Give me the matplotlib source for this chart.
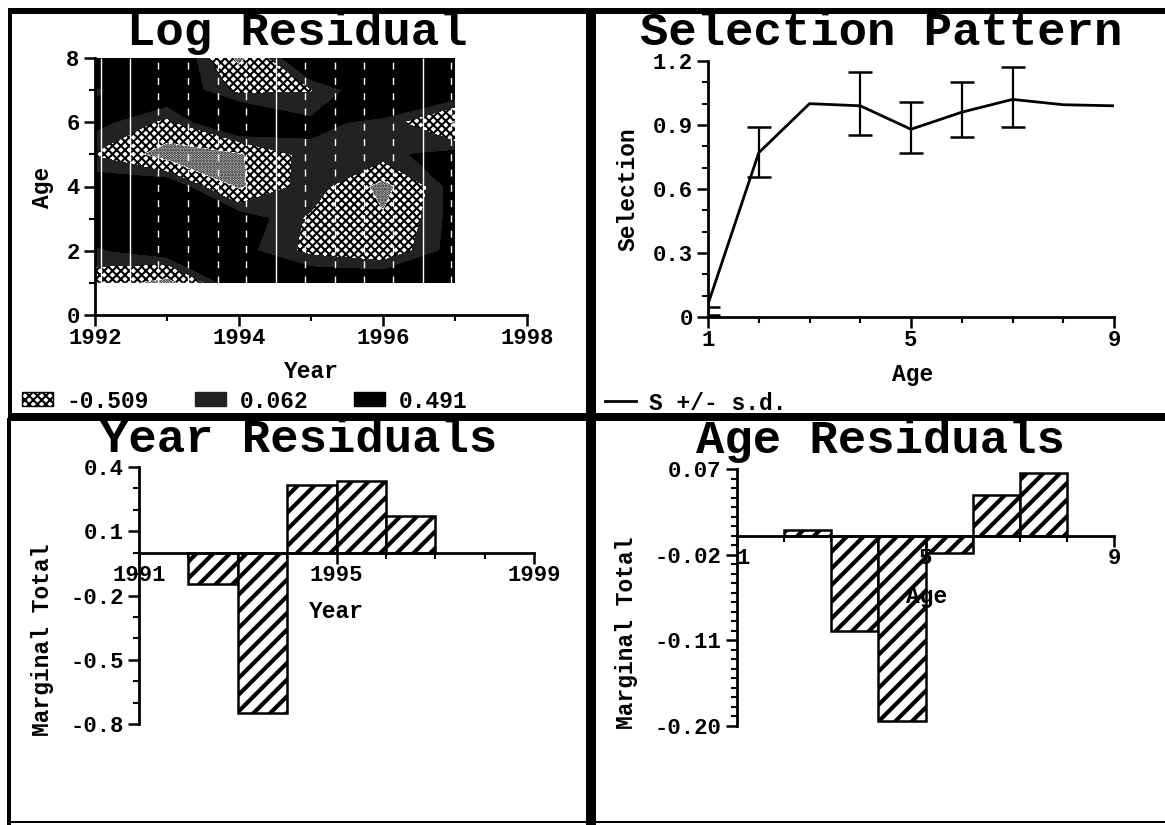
import numpy as np
import matplotlib
matplotlib.use("Agg")
import matplotlib.pyplot as plt
from matplotlib.patches import Patch, Rectangle
from matplotlib.transforms import Affine2D
from matplotlib.ticker import MultipleLocator, FixedLocator

W, H = 1165, 825
FONT = "Liberation Mono"
plt.rcParams["font.family"] = [FONT, "DejaVu Sans Mono"]
plt.rcParams["font.weight"] = "bold"
plt.rcParams["axes.unicode_minus"] = False

# ---- data ----
res_years = [1992, 1993, 1994, 1995, 1996, 1997]
res_ages = [1, 2, 3, 4, 5, 6, 7, 8]
res_age1 = [-0.40, -0.80, 0.30, 0.30, 0.30, 0.30]
res_age2 = [-0.05, 0.20, 0.10, -0.30, -0.45, 0.12]
res_age3 = [0.30, 0.20, 0.20, -0.28, -0.60, 0.12]
res_age4 = [0.20, 0.30, -0.72, -0.02, -0.80, 0.15]
res_age5 = [-0.25, -0.85, -0.70, -0.05, -0.06, 0.10]
res_age6 = [0.10, -0.30, 0.50, 0.05, -0.05, -0.70]
res_age7 = [-0.05, 0.30, -0.30, -0.24, 0.30, 0.30]
res_age8 = [0.50, 0.50, -0.75, 0.50, 0.50, 0.50]
res_levels = [-2.0, -0.65, -0.22, 0.0, 2.0]
legend_values = ["-0.509", "0.062", "0.491"]

sel_ages = [1, 2, 3, 4, 5, 6, 7, 8, 9]
sel_values = [0.06, 0.77, 1.00, 0.99, 0.88, 0.96, 1.02, 0.995, 0.99]
err_ages = [1, 2, 4, 5, 6, 7]
err_centre = [0.03, 0.77, 0.99, 0.88, 0.96, 1.02]
err_lower = [0.01, 0.655, 0.855, 0.77, 0.845, 0.89]
err_upper = [0.045, 0.89, 1.15, 1.01, 1.10, 1.17]

year_bins = [1992, 1993, 1994, 1995, 1996]
year_totals = [-0.145, -0.75, 0.315, 0.335, 0.17]
age_bins = [2, 3, 4, 5, 6, 7]
age_totals = [0.006, -0.10, -0.195, -0.018, 0.043, 0.066]

streak_solid = [1992.09, 1992.48, 1994.51, 1996.55]
streak_dash = [1992.88, 1993.29, 1993.71, 1994.10, 1994.92, 1995.33,
               1995.73, 1996.14, 1996.95]

fig = plt.figure(figsize=(W / 100, H / 100), dpi=100, facecolor="white")
px = Affine2D().scale(1 / W, -1 / H).translate(0, 1) + fig.transFigure

def make_axes(l, t, r, b):
    ax = fig.add_axes([l / W, 1 - b / H, (r - l) / W, (b - t) / H])
    ax.box = (l, t, r, b)
    ax.set_facecolor("none")
    for s in ("top", "right"):
        ax.spines[s].set_visible(False)
    for s in ("left", "bottom"):
        ax.spines[s].set_linewidth(2)
    ax.tick_params(which="major", length=8, width=1.8, labelsize=16, pad=3)
    ax.tick_params(axis="x", which="major", pad=1)
    ax.tick_params(which="minor", length=4, width=1.5)
    return ax

def rel(ax, x, y):
    l, t, r, b = ax.box
    return (x - l) / (r - l), (b - y) / (b - t)

def titles(ax, title, xlabel, ylabel, tpos, xpos, ypos):
    x, y = rel(ax, *tpos)
    ax.set_title(title, fontsize=34, fontweight="bold", x=x, y=y, va="center", ha="center", pad=0)
    ax.set_xlabel(xlabel, fontsize=16.5, fontweight="bold")
    ax.xaxis.set_label_coords(*rel(ax, *xpos))
    ax.xaxis.label.set_va("center")
    ax.set_ylabel(ylabel, fontsize=16.5, fontweight="bold")
    ax.yaxis.set_label_coords(*rel(ax, *ypos))
    ax.yaxis.label.set_va("center")

# ---- Log Residual ----
ax1 = make_axes(95, 58, 527, 315)
Z = np.array([res_age1, res_age2, res_age3, res_age4, res_age5, res_age6, res_age7, res_age8])
plt.rcParams["hatch.linewidth"] = 1.5
ax1.contourf(res_years, res_ages, Z, levels=res_levels,
             colors=["#f2f2f2", "#ffffff", "#222222", "#000000"],
             hatches=["......", "xxxx", None, None])
ax1.vlines(streak_solid, 1, 8, color="white", lw=1)
ax1.vlines(streak_dash, 1, 8, color="white", lw=1, linestyles=(0, (5, 6)))
ax1.set_xlim(1992, 1998)
ax1.set_ylim(0, 8)
ax1.xaxis.set_major_locator(MultipleLocator(2))
ax1.xaxis.set_minor_locator(MultipleLocator(1))
ax1.yaxis.set_major_locator(MultipleLocator(2))
ax1.yaxis.set_minor_locator(MultipleLocator(1))
titles(ax1, "Log Residual", "Year", "Age", (297, 33), (311, 372), (43, 187))
handles = [Patch(facecolor="white", edgecolor="black", hatch="xxxx"),
           Patch(facecolor="#222222", edgecolor="#222222"),
           Patch(facecolor="black", edgecolor="black")]
ax1.legend(handles, legend_values, ncol=3, frameon=False, loc="center left",
           bbox_to_anchor=rel(ax1, 22, 401), borderpad=0, borderaxespad=0,
           fontsize=16.5, handlelength=1.35, handleheight=0.55,
           handletextpad=0.6, columnspacing=2.0)

# ---- Selection Pattern ----
ax2 = make_axes(708, 61, 1114, 317)
line, = ax2.plot(sel_ages, sel_values, color="black", lw=2)
ax2.errorbar(err_ages, err_centre,
             yerr=[np.array(err_centre) - np.array(err_lower),
                   np.array(err_upper) - np.array(err_centre)],
             fmt="none", ecolor="black", elinewidth=1.6, capsize=8.5, capthick=1.8)
ax2.set_xlim(1, 9)
ax2.set_ylim(0, 1.2)
ax2.xaxis.set_major_locator(FixedLocator([1, 5, 9]))
ax2.xaxis.set_minor_locator(MultipleLocator(1))
ax2.yaxis.set_major_locator(FixedLocator([0, 0.3, 0.6, 0.9, 1.2]))
ax2.yaxis.set_minor_locator(MultipleLocator(0.1))
ax2.set_yticklabels(["0", "0.3", "0.6", "0.9", "1.2"])
titles(ax2, "Selection Pattern", "Age", "Selection", (881, 33), (913, 375), (628, 189))
ax2.legend([line], ["S +/- s.d."], frameon=False, loc="center left",
           bbox_to_anchor=rel(ax2, 605, 403), borderpad=0, borderaxespad=0,
           fontsize=16.5, handlelength=1.35, handletextpad=0.55)

# ---- Year Residuals ----
plt.rcParams["hatch.linewidth"] = 3.0
ax3 = make_axes(139, 467, 534, 724)
ax3.bar(year_bins, year_totals, width=1, align="edge", facecolor="white",
        edgecolor="black", hatch="//", linewidth=1.8)
ax3.set_xlim(1991, 1999)
ax3.set_ylim(-0.8, 0.4)
ax3.spines["bottom"].set_position(("data", 0))
ax3.xaxis.set_major_locator(FixedLocator([1991, 1995, 1999]))
ax3.xaxis.set_minor_locator(MultipleLocator(1))
ax3.yaxis.set_major_locator(FixedLocator([-0.8, -0.5, -0.2, 0.1, 0.4]))
ax3.yaxis.set_minor_locator(MultipleLocator(0.1))
ax3.set_yticklabels(["-0.8", "-0.5", "-0.2", "0.1", "0.4"])
titles(ax3, "Year Residuals", "Year", "Marginal Total", (299, 440), (336, 611), (43, 640))

# ---- Age Residuals ----
ax4 = make_axes(737, 469, 1114, 726)
ax4.bar(age_bins, age_totals, width=1, align="edge", facecolor="white",
        edgecolor="black", hatch="//", linewidth=1.8)
ax4.set_xlim(1, 9)
ax4.set_ylim(-0.20, 0.07)
ax4.spines["bottom"].set_position(("data", 0))
ax4.xaxis.set_major_locator(FixedLocator([1, 5, 9]))
ax4.xaxis.set_minor_locator(MultipleLocator(1))
ax4.yaxis.set_major_locator(FixedLocator([-0.20, -0.11, -0.02, 0.07]))
ax4.yaxis.set_minor_locator(MultipleLocator(0.01))
ax4.set_yticklabels(["-0.20", "-0.11", "-0.02", "0.07"])
titles(ax4, "Age Residuals", "Age", "Marginal Total", (880, 441), (927, 596), (626, 633))
ax4.get_xticklabels()[0].set_ha("left")

# ---- panel frame ----
for (x0, y0, x1, y1) in [(8, 8, 12, 418), (7, 418, 11, 825), (586, 8, 596, 825),
                         (8, 8, 1165, 14), (8, 413, 1165, 421), (7, 821, 1165, 823)]:
    fig.add_artist(Rectangle((x0, y0), x1 - x0, y1 - y0, transform=px,
                             facecolor="black", edgecolor="none"))

fig.savefig("out.png", dpi=100, facecolor="white")
